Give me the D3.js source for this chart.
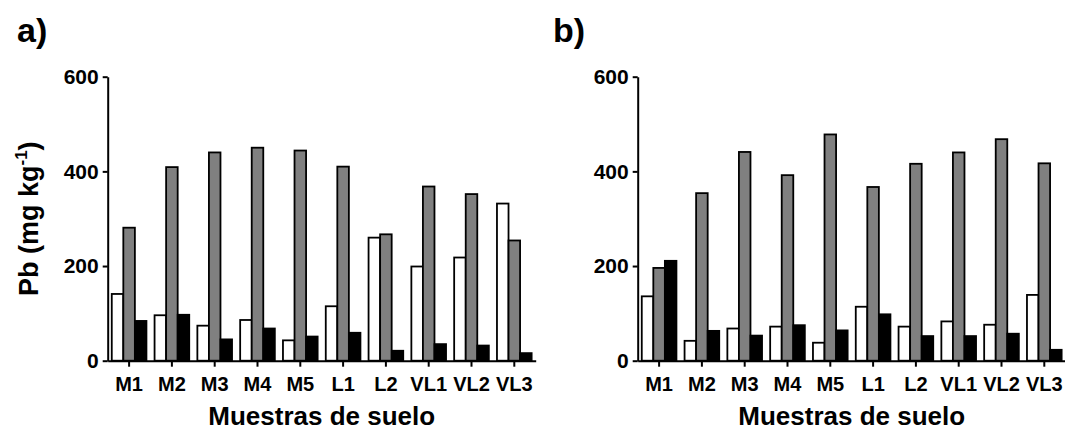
<!DOCTYPE html>
<html>
<head>
<meta charset="utf-8">
<script src="https://cdn.jsdelivr.net/npm/d3@7"></script>
<style>
  html, body { margin: 0; padding: 0; background: #fff; }
  svg { display: block; font-family: "Liberation Sans", Arial, sans-serif; }
</style>
</head>
<body>
<svg id="chart" width="1065" height="432"></svg>
<script>
const categories = ["M1", "M2", "M3", "M4", "M5", "L1", "L2", "VL1", "VL2", "VL3"];
const seriesNames = ["white", "gray", "black"];
const seriesColors = ["#ffffff", "#808080", "#000000"];
const yTicks = [0, 200, 400, 600];

const aWhite = [141, 96, 74, 86, 43, 115, 260, 199, 218, 332];
const aGray  = [281, 409, 440, 450, 444, 410, 267, 368, 352, 254];
const aBlack = [84, 97, 45, 68, 51, 59, 21, 35, 32, 16];

const bWhite = [136, 42, 68, 72, 38, 114, 72, 83, 76, 139];
const bGray  = [196, 354, 441, 392, 478, 367, 416, 440, 468, 417];
const bBlack = [211, 63, 53, 75, 64, 98, 52, 52, 57, 23];

const panels = [
  { label: "a)", left: 107.7, labelX: 17, data: [aWhite, aGray, aBlack], yTitle: true },
  { label: "b)", left: 637.7, labelX: 553, data: [bWhite, bGray, bBlack], yTitle: false }
];

const svg = d3.select("#chart");
const plotW = 428, yTop = 76.7, yBottom = 360.7;

const y = d3.scaleLinear().domain([0, 600]).range([yBottom, yTop]);

panels.forEach(p => {
  const g = svg.append("g").attr("transform", `translate(${p.left},0)`);
  const x0 = d3.scaleBand().domain(categories).range([0, plotW]).padding(0);
  const groupW = x0.bandwidth() * 0.81;
  const x1 = d3.scaleBand().domain(seriesNames).range([0, groupW]).padding(0);
  const off = (x0.bandwidth() - groupW) / 2;

  // bars
  seriesNames.forEach((s, si) => {
    g.append("g").selectAll("rect")
      .data(categories.map((c, i) => ({ c, v: p.data[si][i] })))
      .join("rect")
      .attr("x", d => x0(d.c) + off + x1(s))
      .attr("y", d => y(d.v))
      .attr("width", x1.bandwidth())
      .attr("height", d => y(0) - y(d.v))
      .attr("fill", seriesColors[si])
      .attr("stroke", "#000")
      .attr("stroke-width", 1.8);
  });

  // y axis
  const yAxis = g.append("g")
    .call(d3.axisLeft(y).tickValues(yTicks).tickSize(5).tickSizeOuter(0).tickPadding(4));
  yAxis.select(".domain").attr("stroke-width", 2);
  yAxis.selectAll(".tick line").attr("stroke-width", 2);
  yAxis.selectAll("text").attr("font-size", 21).attr("font-weight", "bold").attr("fill", "#000");

  // x axis
  const xAxis = g.append("g").attr("transform", `translate(0,${yBottom})`)
    .call(d3.axisBottom(x0).tickSize(6).tickSizeOuter(0).tickPadding(10));
  xAxis.select(".domain").attr("stroke-width", 2);
  xAxis.selectAll(".tick line").attr("stroke-width", 2);
  xAxis.selectAll("text").attr("font-size", 20).attr("font-weight", "bold").attr("fill", "#000");

  // x title
  g.append("text")
    .attr("x", plotW / 2).attr("y", 425)
    .attr("text-anchor", "middle")
    .attr("font-size", 26).attr("font-weight", "bold")
    .text("Muestras de suelo");

  // panel label
  svg.append("text")
    .attr("x", p.labelX).attr("y", 42)
    .attr("font-size", 34).attr("font-weight", "bold")
    .text(p.label);

  if (p.yTitle) {
    const t = svg.append("text")
      .attr("transform", `translate(38,${(yTop + yBottom) / 2}) rotate(-90)`)
      .attr("text-anchor", "middle")
      .attr("font-size", 27).attr("font-weight", "bold");
    t.append("tspan").text("Pb (mg kg");
    t.append("tspan").attr("font-size", 17).attr("dy", -11).text("-1");
    t.append("tspan").attr("dy", 11).text(")");
  }
});
</script>
</body>
</html>
